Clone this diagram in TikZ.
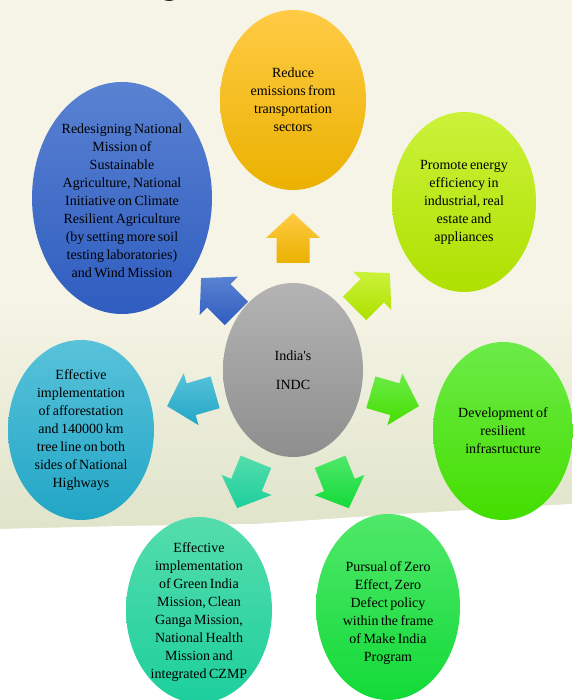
\documentclass[tikz,border=0pt]{standalone}
\usepackage{fontspec}
\setmainfont{Liberation Serif}[WordSpace=0.7]
\setsansfont{Carlito}
\usepackage{tikz}
\usetikzlibrary{shapes.geometric,calc}

% colours of the bubbles (top / bottom of each gradient)
\definecolor{bgcream}{HTML}{F6F4E6}
\definecolor{bggrass}{HTML}{DFE4CA}
\definecolor{yeltop}{HTML}{FFCB45}
\definecolor{yelbot}{HTML}{EBB100}
\definecolor{limetop}{HTML}{CBF23A}
\definecolor{limebot}{HTML}{AEE000}
\definecolor{brgtop}{HTML}{6CEB48}
\definecolor{brgbot}{HTML}{44DE00}
\definecolor{grntop}{HTML}{50E86A}
\definecolor{grnbot}{HTML}{12DA38}
\definecolor{tealtop}{HTML}{55DDAC}
\definecolor{tealbot}{HTML}{1CCF9C}
\definecolor{cyantop}{HTML}{58C2DA}
\definecolor{cyanbot}{HTML}{22A6C6}
\definecolor{bluetop}{HTML}{5A82D2}
\definecolor{bluebot}{HTML}{2F5DC0}
\definecolor{greytop}{HTML}{B4B4B4}
\definecolor{greybot}{HTML}{8E8E8E}

% block arrow pointing away from the centre: name, angle, distance, top, bottom
\newcommand{\radialarrow}[5]{%
  \coordinate (#1) at ($(indc.center)+(#2:#3)$);
  \shade[top color=#4,bottom color=#5]
    ($(#1)+(#2:25)$) -- ($(#1)+(#2+90:27)$) -- ($(#1)+(#2+90:16.5)$)
    -- ($(#1)+(#2+90:16.5)+(#2+180:25)$) -- ($(#1)+(#2-90:16.5)+(#2+180:25)$)
    -- ($(#1)+(#2-90:16.5)$) -- ($(#1)+(#2-90:27)$) -- cycle;
}

\begin{document}
\begin{tikzpicture}[x=1pt,y=1pt,
    bubble/.style={ellipse,inner sep=0pt,minimum width=146pt,minimum height=180pt},
    txt/.style={align=center,inner sep=0pt,font=\fontsize{14}{18}\selectfont}]
    \useasboundingbox (0,0) rectangle (572,700);
    %background
    \fill[bgcream] (0,0) rectangle (572,700);
    \shade[top color=bgcream,bottom color=bggrass]
      (0,171) -- (255,176) -- (572,196) -- (572,400) -- (0,400) -- cycle;
    \fill[white] (0,0) -- (0,171) -- (120,174) -- (255,176) -- (400,186)
      -- (572,196) -- (572,0) -- cycle;
    \node[font=\sffamily\fontsize{40}{40}\selectfont,anchor=base] (title) at (170,705) {g};
    %bubbles
    \node[bubble,top color=greytop,bottom color=greybot,minimum width=140pt,minimum height=174pt] (indc) at (293,330) {};
    \node[bubble,top color=yeltop,bottom color=yelbot] (reduce) at (293,600) {};
    \node[bubble,top color=limetop,bottom color=limebot,minimum width=144pt] (energy) at (464,498) {};
    \node[bubble,top color=brgtop,bottom color=brgbot,minimum width=140pt,minimum height=178pt] (resilient) at (503,269) {};
    \node[bubble,top color=grntop,bottom color=grnbot,minimum width=144pt,minimum height=186pt] (zero) at (388,93) {};
    \node[bubble,top color=tealtop,bottom color=tealbot,minimum height=186pt] (greenindia) at (199,90) {};
    \node[bubble,top color=cyantop,bottom color=cyanbot] (afforest) at (81,270) {};
    \node[bubble,top color=bluetop,bottom color=bluebot,minimum width=180pt,minimum height=232pt] (agri) at (122,502) {};
    %texts
    \node[txt] at (indc) {India\textquotesingle s\\[11pt]INDC};
    \node[txt] at (reduce) {Reduce\\emissions from\\transportation\\sectors};
    \node[txt] at (energy) {Promote energy\\efficiency in\\industrial, real\\estate and\\appliances};
    \node[txt] at (resilient) {Development of\\resilient\\infrasrtucture};
    \node[txt] at ($(zero)+(0,-6)$) {Pursual of Zero\\Effect, Zero\\Defect policy\\within the frame\\of Make India\\Program};
    \node[txt] at ($(greenindia)+(0,-2)$) {Effective\\implementation\\of Green India\\Mission, Clean\\Ganga Mission,\\National Health\\Mission and\\integrated CZMP};
    \node[txt] at (afforest) {Effective\\implementation\\of afforestation\\and 140000 km\\tree line on both\\sides of National\\Highways};
    \node[txt] at ($(agri)+(0,-3)$) {Redesigning National\\Mission of\\Sustainable\\Agriculture, National\\Initiative on Climate\\Resilient Agriculture\\(by setting more soil\\testing laboratories)\\and Wind Mission};
    %arrows
    \radialarrow{toreduce}{90}{132}{yeltop}{yelbot}
    \radialarrow{toenergy}{45}{112}{limetop}{limebot}
    \radialarrow{toresilient}{-16}{106}{brgtop}{brgbot}
    \radialarrow{tozero}{-68}{124}{grntop}{grnbot}
    \radialarrow{togreenindia}{-112}{124}{tealtop}{tealbot}
    \radialarrow{toafforest}{196}{106}{cyantop}{cyanbot}
    \radialarrow{toagri}{135}{105}{bluetop}{bluebot}
\end{tikzpicture}
\end{document}
